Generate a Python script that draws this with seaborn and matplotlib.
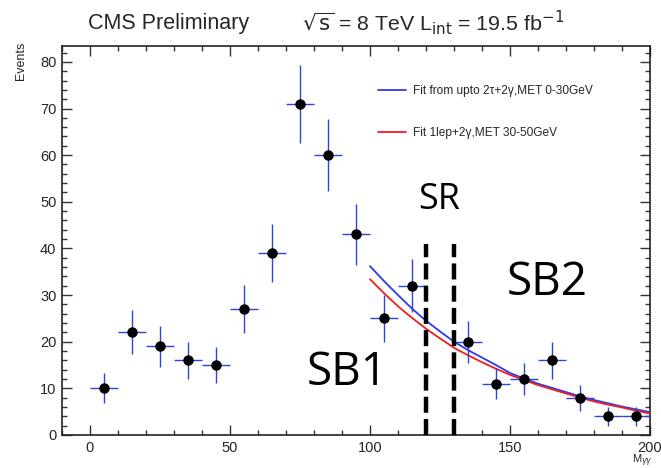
import numpy as np
import pandas as pd
import matplotlib
matplotlib.use("Agg")
import matplotlib.pyplot as plt
import seaborn as sns
from matplotlib.ticker import MultipleLocator

# ---- data ----
bin_centers = [5, 15, 25, 35, 45, 55, 65, 75, 85, 95, 105, 115, 135, 145, 155, 165, 175, 185, 195]
events = [10, 22, 19, 16, 15, 27, 39, 71, 60, 43, 25, 32, 20, 11, 12, 16, 8, 4, 4]
event_err = [3.2, 4.7, 4.4, 4.0, 3.9, 5.2, 6.2, 8.4, 7.7, 6.6, 5.0, 5.7, 4.5, 3.3, 3.5, 4.0, 2.8, 2.0, 2.0]
bin_halfwidth = [5] * len(bin_centers)

fit_x = [100, 105, 110, 115, 120, 125, 130, 135, 140, 145, 150, 155, 160, 165, 170, 175, 180, 185, 190, 195, 200]
fit_blue = [36.2, 33.0, 30.0, 27.1, 24.5, 22.2, 20.0, 18.2, 16.6, 15.0, 13.3, 12.1, 11.0, 10.1, 9.2, 8.3, 7.5, 6.8, 6.1, 5.5, 4.9]
fit_red = [33.4, 30.4, 27.6, 25.1, 22.8, 20.7, 18.7, 17.1, 15.6, 14.2, 12.9, 11.8, 10.7, 9.8, 8.9, 8.0, 7.2, 6.5, 5.9, 5.2, 4.6]
label_blue = "Fit from upto 2\u03c4+2\u03b3,MET 0-30GeV"
label_red = "Fit 1lep+2\u03b3,MET 30-50GeV"

sr_edges = [120, 130]
sr_top = 41

region_labels = ["SR", "SB1", "SB2"]
region_x = [124.6, 91.8, 163.2]
region_y = [50.4, 13.3, 32.6]
region_size = [26, 33, 33]

# ---- style ----
sns.set_theme(style="ticks")
plt.rcParams["font.family"] = ["Liberation Sans", "DejaVu Sans"]

fig = plt.figure(figsize=(6.61, 4.68), dpi=100)
ax = fig.add_axes([62 / 661, 33 / 468, 588 / 661, 389 / 468])

fits = pd.DataFrame({
    "x": fit_x * 2,
    "y": fit_blue + fit_red,
    "fit": [label_blue] * len(fit_x) + [label_red] * len(fit_x),
})
sns.lineplot(data=fits, x="x", y="y", hue="fit",
             palette={label_blue: "#2a3cf0", label_red: "#f01e1e"},
             linewidth=1.3, ax=ax, zorder=3)

ax.errorbar(bin_centers, events, yerr=event_err, xerr=bin_halfwidth,
            fmt="o", color="black", ms=6.5, ecolor="#2f44d8", elinewidth=1.0,
            capsize=0, zorder=4)

ax.vlines(sr_edges, 0, sr_top, colors="black", linewidth=3.2,
          linestyles=(0, (3.6, 1.4)), zorder=5)

for lab, xx, yy, sz in zip(region_labels, region_x, region_y, region_size):
    ax.text(xx, yy, lab, fontsize=sz, ha="center", va="center",
            family=["Open Sans", "DejaVu Sans"], color="black")

ax.set_xlim(-10, 200)
ax.set_ylim(0, 83.4)
ax.xaxis.set_major_locator(MultipleLocator(50))
ax.xaxis.set_minor_locator(MultipleLocator(10))
ax.yaxis.set_major_locator(MultipleLocator(10))
ax.yaxis.set_minor_locator(MultipleLocator(2))
ax.tick_params(which="both", direction="in", top=True, right=True,
               labelsize=10.5, color="#333333")
ax.tick_params(which="major", length=7, width=1.0, pad=4)
ax.tick_params(which="minor", length=3.5, width=1.0)
for sp in ax.spines.values():
    sp.set_linewidth(1.2)
    sp.set_color("#222222")

ax.set_xlabel("")
ax.set_ylabel("")
fig.text(21 / 661, 1 - 42 / 468, "Events", rotation=90, ha="center", va="top", fontsize=9)
fig.text(653 / 661, 1 - 453 / 468, "M$_{\\gamma\\gamma}$", ha="right", va="top", fontsize=8)

fig.text(88 / 661, 1 - 23 / 468, "CMS Preliminary", ha="left", va="center", fontsize=15.5)
fig.text(302 / 661, 1 - 23 / 468,
         "$\\sqrt{\\mathrm{s}}$ = 8 TeV L$_{\\mathrm{int}}$ = 19.5 fb$^{-1}$",
         ha="left", va="center", fontsize=15.4)

leg = ax.legend(loc="upper left", bbox_to_anchor=(0.537, 0.900), frameon=False,
                fontsize=8.6, labelspacing=2.55, handlelength=2.4,
                handletextpad=0.55, borderpad=0, borderaxespad=0)

fig.savefig("out.png", dpi=100)
